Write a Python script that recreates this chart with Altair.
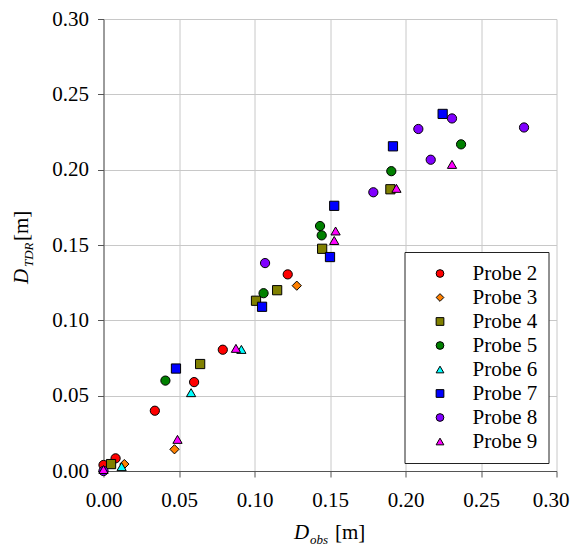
import altair as alt
import pandas as pd

probes = ["Probe 2", "Probe 3", "Probe 4", "Probe 5", "Probe 6", "Probe 7", "Probe 8", "Probe 9"]
colors = ["#ff0000", "#ff8000", "#808000", "#008000", "#00ffff", "#0000ff", "#8000ff", "#ff00ff"]
shapes = ["circle", "diamond", "square", "circle", "triangle-up", "square", "circle", "triangle-up"]

p2_x = [0.000, 0.008, 0.034, 0.060, 0.079, 0.122]
p2_y = [0.004, 0.0084, 0.040, 0.059, 0.0805, 0.1305]
p3_x = [0.0138, 0.047, 0.128]
p3_y = [0.0046, 0.0144, 0.123]
p4_x = [0.005, 0.064, 0.101, 0.115, 0.1448, 0.190]
p4_y = [0.0046, 0.071, 0.113, 0.120, 0.1475, 0.187]
p5_x = [0.041, 0.106, 0.1434, 0.1445, 0.1906, 0.2368]
p5_y = [0.060, 0.118, 0.1626, 0.1564, 0.199, 0.2168]
p6_x = [0.012, 0.058, 0.0913]
p6_y = [0.0029, 0.052, 0.0807]
p7_x = [0.048, 0.105, 0.150, 0.1528, 0.1917, 0.2246]
p7_y = [0.068, 0.109, 0.142, 0.176, 0.2155, 0.237]
p8_x = [0.000, 0.107, 0.1787, 0.2085, 0.2167, 0.2308, 0.2785]
p8_y = [0.000, 0.138, 0.185, 0.227, 0.2066, 0.234, 0.228]
p9_x = [0.000, 0.049, 0.0877, 0.1528, 0.1537, 0.194, 0.2308]
p9_y = [0.001, 0.021, 0.0814, 0.153, 0.1593, 0.1876, 0.2035]

series = [(p2_x, p2_y), (p3_x, p3_y), (p4_x, p4_y), (p5_x, p5_y),
          (p6_x, p6_y), (p7_x, p7_y), (p8_x, p8_y), (p9_x, p9_y)]

rows = []
for name, (xs, ys) in zip(probes, series):
    for xv, yv in zip(xs, ys):
        rows.append({"Probe": name, "Dobs": xv, "Dtdr": yv})
df = pd.DataFrame(rows)

W, H = 453, 452
FONT = "Liberation Serif"
ticks = [0.0, 0.05, 0.10, 0.15, 0.20, 0.25, 0.30]

points = alt.Chart(df).mark_point(
    filled=True, size=85, stroke="black", strokeWidth=1, opacity=1
).encode(
    x=alt.X("Dobs:Q", scale=alt.Scale(domain=[0, 0.30], nice=False),
            axis=alt.Axis(values=ticks, format=".2f", title=None, labelFlush=False,
                          labelOffset={"condition": {"test": "datum.value >= 0.29", "value": -6},
                                       "value": 0})),
    y=alt.Y("Dtdr:Q", scale=alt.Scale(domain=[0, 0.30], nice=False),
            axis=alt.Axis(values=ticks, format=".2f", title=None, labelFlush=False)),
    color=alt.Color("Probe:N", scale=alt.Scale(domain=probes, range=colors),
                    legend=alt.Legend(title=None, orient="none", legendX=301, legendY=233)),
    shape=alt.Shape("Probe:N", scale=alt.Scale(domain=probes, range=shapes)),
)

def txt(s, x, y, size=21, italic=False, angle=0):
    return alt.Chart(pd.DataFrame({"t": [s]})).mark_text(
        font=FONT, fontSize=size, fontStyle="italic" if italic else "normal",
        align="left", baseline="alphabetic", angle=angle, color="black"
    ).encode(x=alt.value(x), y=alt.value(y), text="t:N")

# x-axis title: D_obs [m]
xt = [
    txt("D", 190.5, 520, italic=True),
    txt("obs", 206.5, 525, size=13, italic=True),
    txt("[m]", 231.5, 520),
]
# y-axis title: D_TDR [m] (rotated)
yt = [
    txt("D", -76, 265, italic=True, angle=270),
    txt("TDR", -71, 248, size=13, italic=True, angle=270),
    txt("[m]", -76, 222, angle=270),
]

chart = alt.layer(points, *xt, *yt).properties(
    width=W, height=H,
    autosize=alt.AutoSizeParams(type="none"),
    padding={"left": 95.5, "top": 11, "right": 13.5, "bottom": 76},
).configure(font=FONT).configure_view(stroke=None).configure_axis(
    labelFont=FONT, labelFontSize=21, labelColor="black",
    domainColor="#555555", tickColor="#555555", tickSize=6,
    gridColor="#c8c8c8", gridWidth=1, labelPadding=9,
).configure_axisX(labelPadding=12).configure_legend(
    labelFont=FONT, labelFontSize=21, labelColor="black",
    strokeColor="#222222", fillColor="white", padding=11,
    rowPadding=2, symbolSize=60, symbolStrokeColor="black",
    symbolStrokeWidth=1, symbolOffset=14, labelOffset=22,
)

chart.save("out.html", embed_options={"renderer": "svg", "actions": False})
